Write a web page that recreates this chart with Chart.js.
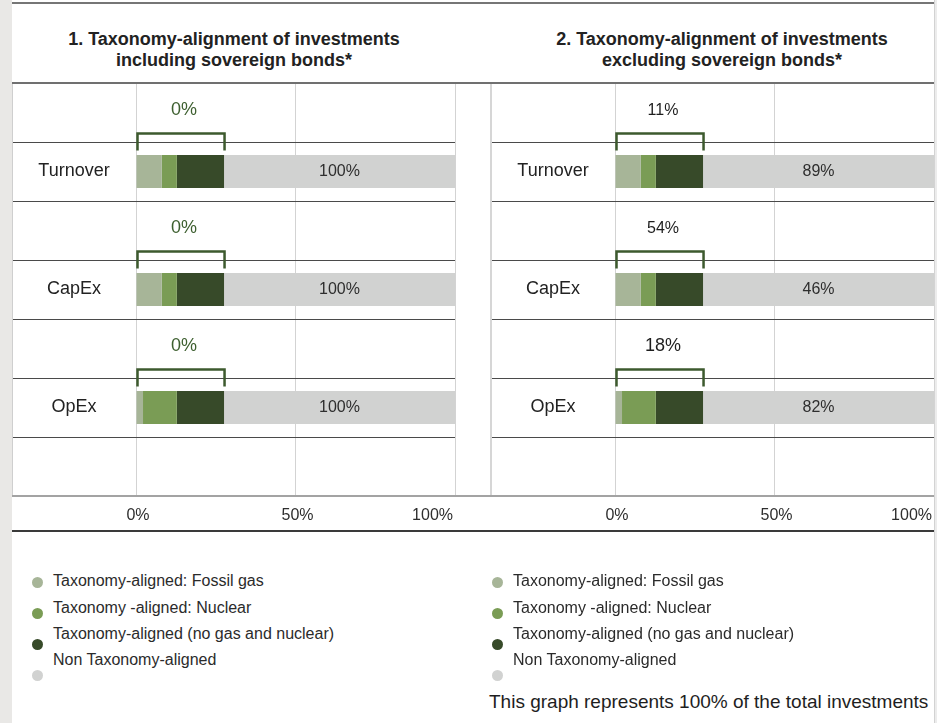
<!DOCTYPE html>
<html>
<head>
<meta charset="utf-8">
<script src="https://cdn.jsdelivr.net/npm/chart.js@4.4.1/dist/chart.umd.min.js"></script>
<style>
    body {
        margin: 0;
        width: 937px;
        height: 723px;
        position: relative;
        overflow: hidden;
        background: #fff;
        font-family: "Liberation Sans", Arial, sans-serif;
        color: #222;
    }
    .abs { position: absolute; }
    .title {
        position: absolute;
        top: 29px;
        width: 444px;
        text-align: center;
        font-weight: bold;
        font-size: 18px;
        line-height: 21px;
        color: #222;
    }
    .leg-text { position: absolute; font-size: 16px; line-height: 18px; color: #2b2b2b; white-space: nowrap; }
    .leg-dot { position: absolute; width: 11px; height: 11px; border-radius: 50%; }
</style>
</head>
<body>

<div class="abs" style="left:0;top:0;width:12px;height:723px;background:#e9e8e6"></div>
<div class="abs" style="left:934px;top:0;width:2px;height:723px;background:#ececec;border-left:1px solid #d2d2d2"></div>

<div class="title" style="left:12px">1. Taxonomy-alignment of investments<br>including sovereign bonds*</div>
<div class="title" style="left:500px">2. Taxonomy-alignment of investments<br>excluding sovereign bonds*</div>

<div class="abs" style="left:12px;top:83px"><canvas id="chartIncl" width="444" height="448"></canvas></div>
<div class="abs" style="left:491px;top:83px"><canvas id="chartExcl" width="444" height="448"></canvas></div>

<div class="abs" style="left:12px;top:2px;width:922px;height:2px;background:#767676"></div>
<div class="abs" style="left:12px;top:82px;width:922px;height:2px;background:#707070"></div>
<div class="abs" style="left:12px;top:495px;width:922px;height:2px;background:#a3a3a3"></div>
<div class="abs" style="left:12px;top:530px;width:922px;height:2px;background:#3a3a3a"></div>
<div class="abs" style="left:12px;top:84px;width:1px;height:411px;background:#cfcfcf"></div>
<div class="abs" style="left:490px;top:84px;width:2px;height:411px;background:#d6d6d6"></div>

<div id="legend"></div>
<div class="abs" style="left:489px;top:691px;font-size:19px;line-height:22px;color:#1e1e1e;white-space:nowrap">This graph represents 100% of the total investments</div>

<script>
const categories = ["Turnover", "CapEx", "OpEx"];
const seriesNames = [
    "Taxonomy-aligned: Fossil gas",
    "Taxonomy -aligned: Nuclear",
    "Taxonomy-aligned (no gas and nuclear)",
    "Non Taxonomy-aligned",
];
const seriesColors = ["#a7b598", "#7a9c55", "#374a29", "#d1d2d1"];
const xTicks = [0, 50, 100];

// segment lengths as drawn in the graphic (% of axis)
const fossilGasIncl = [8.1, 8.1, 2.2];
const nuclearIncl = [4.7, 4.7, 10.6];
const noGasNuclearIncl = [14.8, 14.8, 14.8];
const nonAlignedIncl = [72.4, 72.4, 72.4];

const fossilGasExcl = [8.1, 8.1, 2.2];
const nuclearExcl = [4.7, 4.7, 10.6];
const noGasNuclearExcl = [14.8, 14.8, 14.8];
const nonAlignedExcl = [72.4, 72.4, 72.4];

// printed figures
const alignedLabelsIncl = ["0%", "0%", "0%"];
const nonAlignedLabelsIncl = ["100%", "100%", "100%"];
const alignedLabelsExcl = ["11%", "54%", "18%"];
const nonAlignedLabelsExcl = ["89%", "46%", "82%"];

// each category gets an empty row above it for the bracket, plus one empty row at the bottom
const rows = [];
categories.forEach((c) => rows.push("", c));
rows.push("");

function toRows(values) {
    const out = [];
    values.forEach((v) => out.push(null, v));
    out.push(null);
    return out;
}

const m = document.createElement("canvas").getContext("2d");
m.font = '18px "Liberation Sans"';
const widest = Math.max(...categories.map((c) => m.measureText(c).width));
const labelArea = 124;

const decor = {
    id: "decor",
    afterDatasetsDraw(chart, args, opts) {
        const { ctx, chartArea } = chart;
        const x = chart.scales.x;
        const y = chart.scales.y;
        const step = (chartArea.bottom - chartArea.top) / rows.length;

        ctx.save();
        // row separators, across the label area too
        ctx.strokeStyle = "#4a4a4a";
        ctx.lineWidth = 1;
        for (let i = 1; i < rows.length; i++) {
            const yy = Math.round(y.getPixelForValue(i) - step / 2) + 0.5;
            ctx.beginPath();
            ctx.moveTo(0, yy);
            ctx.lineTo(chartArea.right, yy);
            ctx.stroke();
        }

        // brackets over the aligned part + printed figures
        opts.aligned.forEach((s, k) => {
            const r = 2 * k + 1;
            const yc = y.getPixelForValue(r);
            const sum = opts.parts[0][k] + opts.parts[1][k] + opts.parts[2][k];
            const x0 = x.getPixelForValue(0);
            const x1 = x.getPixelForValue(sum);
            ctx.strokeStyle = "#3d5a2e";
            ctx.lineWidth = 2.5;
            ctx.beginPath();
            ctx.moveTo(x0 + 1.5, yc - 21);
            ctx.lineTo(x0 + 1.5, yc - 38);
            ctx.lineTo(x1 + 0.5, yc - 38);
            ctx.lineTo(x1 + 0.5, yc - 21);
            ctx.stroke();

            ctx.fillStyle = opts.topColor;
            ctx.font = opts.topSizes[k] + 'px "Liberation Sans"';
            ctx.textAlign = "center";
            ctx.textBaseline = "middle";
            ctx.fillText(s, (x0 + x1) / 2 + 4, y.getPixelForValue(r - 1) - 2);

            const el = chart.getDatasetMeta(3).data[r];
            ctx.fillStyle = "#2e2e2e";
            ctx.font = '16px "Liberation Sans"';
            ctx.fillText(opts.nonAligned[k], (el.x + el.base) / 2, yc);
        });

        // x tick labels
        ctx.fillStyle = "#2e2e2e";
        ctx.font = '16px "Liberation Sans"';
        ctx.textBaseline = "middle";
        x.ticks.forEach((t, i) => {
            const px = x.getPixelForValue(t.value);
            const last = i === x.ticks.length - 1;
            ctx.textAlign = last ? "right" : "center";
            ctx.fillText(t.value + "%", last ? px - 2 : px + 2, chartArea.bottom + 20);
        });
        ctx.restore();
    },
};

function makeChart(id, parts, aligned, nonAligned, topColor, topSizes) {
    new Chart(document.getElementById(id), {
        type: "bar",
        data: {
            labels: rows,
            datasets: parts.map((p, i) => ({
                label: seriesNames[i],
                data: toRows(p),
                backgroundColor: seriesColors[i],
                borderWidth: 0,
                barPercentage: 0.56,
                categoryPercentage: 1,
            })),
        },
        options: {
            indexAxis: "y",
            responsive: false,
            animation: false,
            devicePixelRatio: 1,
            layout: { padding: { left: 0, right: 1, top: 0, bottom: 0 } },
            scales: {
                x: {
                    stacked: true,
                    min: 0,
                    max: 100,
                    afterBuildTicks: (s) => {
                        s.ticks = xTicks.map((v) => ({ value: v }));
                    },
                    grid: { color: "#d3d3d3", lineWidth: 1, drawTicks: false },
                    border: { display: false },
                    ticks: { display: false },
                    afterFit: (s) => {
                        s.height = 35;
                        s.paddingLeft = 0;
                        s.paddingRight = 0;
                    },
                },
                y: {
                    stacked: true,
                    offset: true,
                    grid: { display: false, drawTicks: false },
                    border: { display: false },
                    ticks: {
                        color: "#222",
                        font: { family: "Liberation Sans", size: 18 },
                        crossAlign: "center",
                        padding: labelArea / 2 - widest / 2,
                        autoSkip: false,
                    },
                    afterFit: (s) => {
                        s.width = labelArea;
                        s.paddingTop = 0;
                        s.paddingBottom = 0;
                    },
                },
            },
            plugins: {
                legend: { display: false },
                tooltip: { enabled: false },
                decor: { parts, aligned, nonAligned, topColor, topSizes },
            },
        },
        plugins: [decor],
    });
}

makeChart("chartIncl",
    [fossilGasIncl, nuclearIncl, noGasNuclearIncl, nonAlignedIncl],
    alignedLabelsIncl, nonAlignedLabelsIncl, "#3d5f2f", [18, 18, 18]);
makeChart("chartExcl",
    [fossilGasExcl, nuclearExcl, noGasNuclearExcl, nonAlignedExcl],
    alignedLabelsExcl, nonAlignedLabelsExcl, "#1e1e1e", [16, 16, 18]);

// legends, one under each panel
const textY = [581, 608, 634, 660];
const dotY = [582, 613, 644, 675];
const legend = document.getElementById("legend");
[[37, 53], [497, 513]].forEach(([dx, tx]) => {
    seriesNames.forEach((name, i) => {
        const dot = document.createElement("div");
        dot.className = "leg-dot";
        dot.style.left = dx - 5.5 + "px";
        dot.style.top = dotY[i] - 5.5 + "px";
        dot.style.background = seriesColors[i];
        legend.appendChild(dot);
        const t = document.createElement("div");
        t.className = "leg-text";
        t.style.left = tx + "px";
        t.style.top = textY[i] - 9 + "px";
        t.textContent = name;
        legend.appendChild(t);
    });
});
</script>
</body>
</html>
